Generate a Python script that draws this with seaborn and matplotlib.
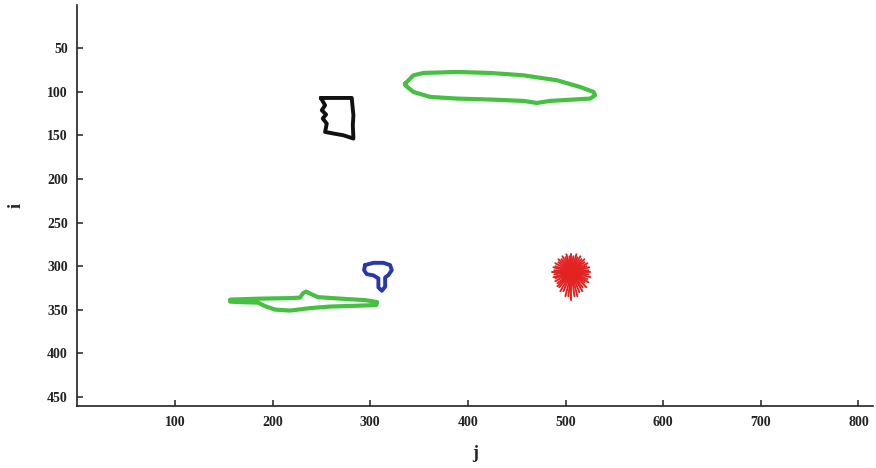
import numpy as np
import pandas as pd
import matplotlib
matplotlib.use("Agg")
import matplotlib.pyplot as plt
import seaborn as sns

# ---- data (j = column, i = row) ----
black_j = [249.3, 253.7, 250.3, 254.7, 251.3, 255.4, 253.7, 262.2, 272.4, 282.7, 282.1, 282.7, 281.7, 281.0, 249.3]
black_i = [107.0, 115.4, 121.1, 126.0, 130.6, 136.4, 146.0, 147.8, 149.8, 153.6, 138.3, 126.8, 115.4, 107.0, 107.0]

green_top_j = [335.7, 344.2, 354.4, 388.6, 422.7, 456.9, 491.1, 514.9, 528.6, 530.3, 525.2, 508.1,
               484.2, 470.6, 456.9, 422.7, 388.6, 361.3, 344.2, 335.7, 335.7]
green_top_i = [90.5, 81.0, 78.3, 77.2, 78.3, 81.0, 86.7, 94.4, 100.1, 103.9, 107.7, 108.8,
               110.4, 112.7, 110.4, 108.8, 107.7, 105.8, 100.1, 92.4, 90.5]

blue_j = [294.6, 303.2, 313.4, 320.3, 322.0, 318.5, 315.2, 315.2, 311.8, 308.3, 308.3, 303.2, 296.4, 293.6, 294.6]
blue_i = [298.8, 296.2, 296.2, 298.8, 304.6, 310.3, 313.0, 323.7, 328.3, 324.4, 314.1, 310.6, 309.2, 304.6, 298.8]

green_bot_j = [156.4, 187.1, 217.8, 228.1, 231.1, 234.2, 238.3, 246.5, 269.1, 294.7, 307.0, 306.0,
               289.6, 258.8, 238.3, 217.8, 202.5, 192.2, 185.0, 166.6, 156.4]
green_bot_i = [338.4, 337.3, 336.7, 336.1, 331.0, 329.2, 331.5, 335.6, 337.3, 339.0, 341.3, 344.7,
               345.3, 346.4, 348.2, 351.0, 349.9, 345.9, 341.9, 341.3, 340.7]

red_center = (506.0, 307.0)
red_ray_j = [525.5, 523.4, 525.5, 522.4, 523.4, 519.3, 521.4, 517.3, 517.3, 514.2, 512.1, 509.1,
             506.0, 502.9, 499.9, 497.8, 494.7, 493.7, 491.7, 491.7, 489.6, 489.6, 487.6, 488.6,
             486.5, 488.6, 487.6, 489.6, 489.6, 492.7, 492.7, 495.8, 496.8, 499.9, 500.9, 504.0,
             506.0, 508.0, 511.1, 512.1, 515.2, 516.2, 519.3, 519.3, 522.4, 521.4, 524.4, 523.4]
red_ray_i = [307.0, 309.5, 312.7, 315.0, 318.5, 318.5, 324.2, 324.2, 328.8, 329.9, 334.5, 334.5,
             339.1, 334.5, 334.5, 328.8, 328.8, 324.2, 323.1, 319.6, 317.3, 313.9, 312.7, 309.3,
             307.0, 304.7, 301.3, 300.1, 296.7, 295.5, 292.1, 292.1, 288.7, 289.8, 286.4, 288.7,
             286.4, 288.7, 286.4, 289.8, 288.7, 292.1, 292.1, 295.5, 296.7, 300.1, 301.3, 304.7]

x_ticks = [100, 200, 300, 400, 500, 600, 700, 800]
y_ticks = [50, 100, 150, 200, 250, 300, 350, 400, 450]

# ---- plotting ----
sns.set_theme(style="ticks")
plt.rcParams['font.family'] = ['Liberation Serif', 'DejaVu Serif']

fig = plt.figure(figsize=(8.76, 4.68), dpi=100)
ax = fig.add_axes([0.0884, 0.1325, 0.9082, 0.8565])

def contour(js, is_, color, lw):
    df = pd.DataFrame({"j": js, "i": is_})
    sns.lineplot(data=df, x="j", y="i", sort=False, estimator=None, color=color,
                 linewidth=lw, ax=ax, solid_joinstyle="round", solid_capstyle="round")

contour(black_j, black_i, "#111111", 2.8)
contour(green_top_j, green_top_i, "#45c040", 3.0)
contour(blue_j, blue_i, "#2a35b0", 2.8)
contour(green_bot_j, green_bot_i, "#45c040", 3.0)

rows = []
for k, (rj, ri) in enumerate(zip(red_ray_j, red_ray_i)):
    rows.append({"ray": k, "j": red_center[0], "i": red_center[1]})
    rows.append({"ray": k, "j": rj, "i": ri})
rays = pd.DataFrame(rows)
sns.lineplot(data=rays, x="j", y="i", units="ray", estimator=None, sort=False,
             color="#e32222", linewidth=1.4, ax=ax)

ax.set_xlim(0, 815)
ax.set_ylim(460.5, 0.5)
ax.set_xticks(x_ticks)
ax.set_yticks(y_ticks)
ax.tick_params(direction="in", length=4, width=1.1, labelsize=10, pad=7, colors="#222222")
for lab in ax.get_xticklabels() + ax.get_yticklabels():
    lab.set_fontweight("bold")
for s in ["top", "right"]:
    ax.spines[s].set_visible(False)
for s in ["left", "bottom"]:
    ax.spines[s].set_linewidth(1.2)
    ax.spines[s].set_color("#222222")
ax.set_xlabel("j", fontsize=13, fontweight="bold", labelpad=12)
ax.set_ylabel("i", fontsize=13, fontweight="bold", labelpad=16)

fig.savefig("out.png", dpi=100)
